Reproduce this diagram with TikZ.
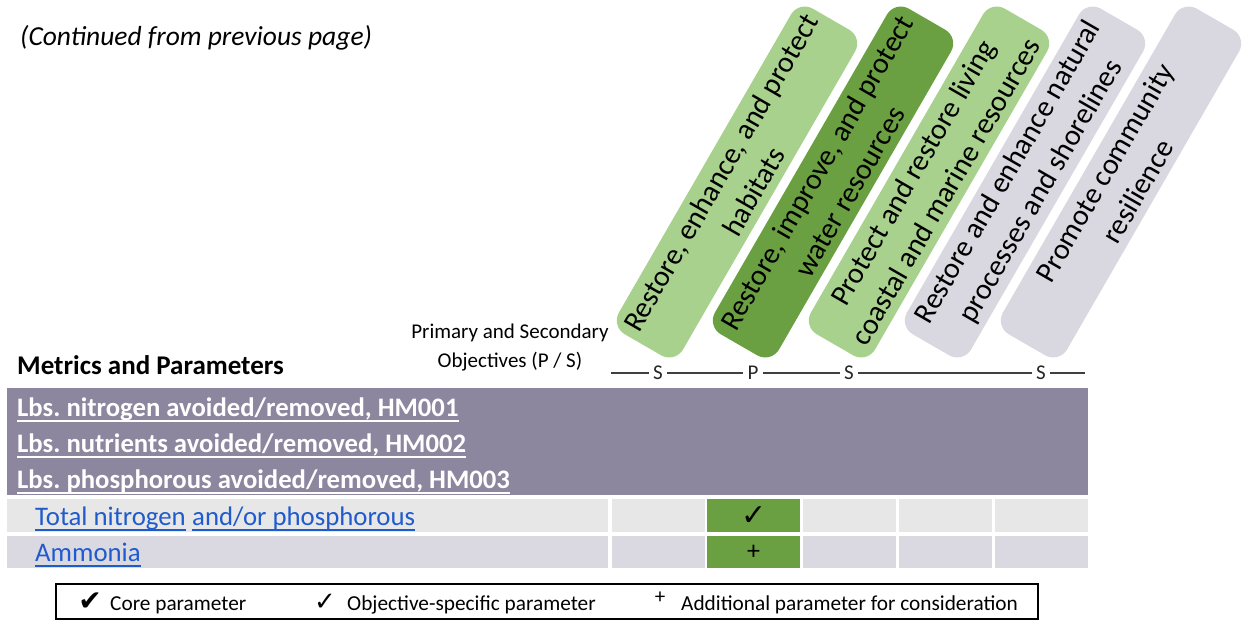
\documentclass[tikz,border=0pt]{standalone}
\usepackage{fontspec}
\setmainfont{Carlito}
\newfontfamily\dejavu{DejaVu Sans}
\frenchspacing
\definecolor{lgreen}{HTML}{A9D18E}
\definecolor{dgreen}{HTML}{6AA041}
\definecolor{lgray}{HTML}{D9D8E0}
\definecolor{purp}{HTML}{8C879F}
\definecolor{rowa}{HTML}{E7E7E7}
\definecolor{rowb}{HTML}{DAD9E2}
\definecolor{linkblue}{HTML}{1F5BCC}
\definecolor{linegray}{HTML}{404040}
\tikzset{
  objbox/.style={minimum width=376pt, minimum height=74pt, rounded corners=16pt,
    inner sep=0pt, align=center, font=\fontsize{29.5}{38}\selectfont, rotate=60},
  plet/.style={font=\fontsize{21}{24}\selectfont, inner sep=4pt, text=black!85},
  spline/.style={draw=linegray, line width=1.4pt},
  small/.style={font=\fontsize{21}{25}\selectfont, inner sep=0pt},
  metric/.style={anchor=base west, inner sep=0pt, text=white, font=\bfseries\fontsize{26.7}{31}\selectfont},
  param/.style={anchor=base west, inner sep=0pt, text=linkblue, font=\fontsize{26.8}{31}\selectfont},
  cell/.style={inner sep=0pt, anchor=north west},
  legtxt/.style={anchor=west, inner sep=0pt, font=\fontsize{21.3}{25}\selectfont},
  ulw/.style={draw=white, line width=1.8pt},
  ulb/.style={draw=linkblue, line width=1.8pt},
}
\begin{document}
\begin{tikzpicture}[x=1pt,y=-1pt]
\useasboundingbox (0,0) rectangle (1243,621);
% title
\node[anchor=west, inner sep=0pt, font=\itshape\fontsize{27.5}{32}\selectfont] (cont) at (20,38) {(Continued from previous page)};
% objective boxes
\node[objbox, fill=lgreen] (o1) at (737,182) {Restore, enhance, and protect\\habitats};
\node[objbox, fill=dgreen] (o2) at (833,182) {Restore, improve, and protect\\water resources};
\node[objbox, fill=lgreen] (o3) at (929,182) {Protect and restore living\\coastal and marine resources};
\node[objbox, fill=lgray] (o4) at (1025,182) {Restore and enhance natural\\processes and shorelines};
\node[objbox, fill=lgray] (o5) at (1121,182) {Promote community\\resilience};
% labels
\node[small] (ps1) at (510,333) {Primary and Secondary};
\node[small] (ps2) at (510,362) {Objectives (P / S)};
\node[anchor=west, inner sep=0pt, font=\bfseries\fontsize{27}{31}\selectfont] (mp) at (17,365) {Metrics and Parameters};
% P/S line
\coordinate (ls) at (611,373);
\coordinate (le) at (1085,373);
\node[plet] (s1) at (658,373) {S};
\node[plet] (p2) at (753,373) {P};
\node[plet] (s3) at (849,373) {S};
\node[plet] (s5) at (1041,373) {S};
\draw[spline] (ls) -- (s1) -- (p2) -- (s3) -- (s5) -- (le);
% purple band
\fill[purp] (7,388) rectangle (1088,495);
\node[metric] (m1) at (17,416) {Lbs. nitrogen avoided/removed, HM001};
\node[metric] (m2) at (17,452) {Lbs. nutrients avoided/removed, HM002};
\node[metric] (m3) at (17,488) {Lbs. phosphorous avoided/removed, HM003};
\foreach \m in {m1,m2,m3}
  \draw[ulw] ([yshift=-5pt]\m.base west) -- ([yshift=-5pt]\m.base east);
% row 1
\node[cell, fill=rowa, minimum width=601pt, minimum height=33pt] (r1l) at (7,499) {};
\node[cell, fill=rowa, minimum width=93pt, minimum height=33pt] (r1c1) at (612,499) {};
\node[cell, fill=dgreen, minimum width=93pt, minimum height=33pt] (r1c2) at (707,499) {};
\node[cell, fill=rowa, minimum width=93pt, minimum height=33pt] (r1c3) at (803,499) {};
\node[cell, fill=rowa, minimum width=93pt, minimum height=33pt] (r1c4) at (899,499) {};
\node[cell, fill=rowa, minimum width=93pt, minimum height=33pt] (r1c5) at (995,499) {};
\node[param] (t1a) at (35,525) {Total nitrogen};
\node[param] (t1b) at ([xshift=6pt]t1a.base east) {and/or phosphorous};
\node[inner sep=0pt, font=\dejavu\fontsize{30}{34}\selectfont] (ck1) at (r1c2.center) {✓};
% row 2
\node[cell, fill=rowb, minimum width=601pt, minimum height=32pt] (r2l) at (7,536) {};
\node[cell, fill=rowb, minimum width=93pt, minimum height=32pt] (r2c1) at (612,536) {};
\node[cell, fill=dgreen, minimum width=93pt, minimum height=32pt] (r2c2) at (707,536) {};
\node[cell, fill=rowb, minimum width=93pt, minimum height=32pt] (r2c3) at (803,536) {};
\node[cell, fill=rowb, minimum width=93pt, minimum height=32pt] (r2c4) at (899,536) {};
\node[cell, fill=rowb, minimum width=93pt, minimum height=32pt] (r2c5) at (995,536) {};
\node[param] (t2) at (35,561) {Ammonia};
\foreach \m in {t1a,t1b,t2}
  \draw[ulb] ([yshift=-5pt]\m.base west) -- ([yshift=-5pt]\m.base east);
\node[inner sep=0pt, font=\fontsize{26}{30}\selectfont] (pl1) at (r2c2.center) {+};
% legend
\draw[line width=2pt] (56,584) rectangle (1038,619);
\node[inner sep=0pt, font=\dejavu\fontsize{28}{32}\selectfont] (lg1) at (90,602) {✔};
\node[legtxt] (lt1) at (110,605) {Core parameter};
\node[inner sep=0pt, font=\dejavu\fontsize{26}{30}\selectfont] (lg2) at (325,602) {✓};
\node[legtxt] (lt2) at (347,605) {Objective-specific parameter};
\node[inner sep=0pt, font=\fontsize{21}{24}\selectfont] (lg3) at (660,598) {+};
\node[legtxt] (lt3) at (681,605) {Additional parameter for consideration};
\end{tikzpicture}
\end{document}
